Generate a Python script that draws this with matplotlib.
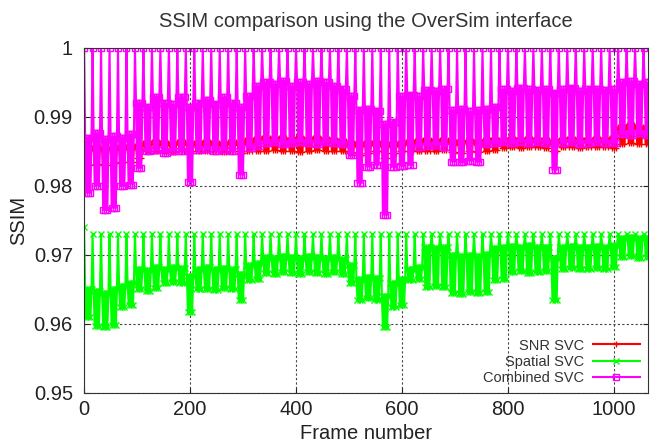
import numpy as np
import matplotlib
matplotlib.use("Agg")
import matplotlib.pyplot as plt

plt.rcParams["font.family"] = ["Liberation Sans", "DejaVu Sans"]

# one entry per 16-frame GOP (frame 0 .. 1056)
gop_start = [16 * g for g in range(67)]

combined_peak = [1.0] * 67
combined_low = [
    0.9790, 0.9800, 0.9765, 0.9768, 0.9800, 0.9802, 0.9826, 0.9850, 0.9852, 0.9848,
    0.9851, 0.9850, 0.9806, 0.9852, 0.9853, 0.9851, 0.9852, 0.9850, 0.9816, 0.9855,
    0.9858, 0.9862, 0.9863, 0.9861, 0.9862, 0.9864, 0.9862, 0.9861, 0.9863, 0.9862,
    0.9860, 0.9845, 0.9804, 0.9828, 0.9830, 0.9758, 0.9827, 0.9829, 0.9830, 0.9856,
    0.9858, 0.9859, 0.9857, 0.9835, 0.9834, 0.9836, 0.9835, 0.9860, 0.9862, 0.9863,
    0.9862, 0.9864, 0.9862, 0.9863, 0.9862, 0.9823, 0.9862, 0.9863, 0.9861, 0.9862,
    0.9863, 0.9862, 0.9862, 0.9875, 0.9874, 0.9876, 0.9873,
]
combined_mid = [
    0.9870, 0.9877, 0.9868, 0.9872, 0.9870, 0.9875, 0.9920, 0.9915, 0.9929, 0.9920,
    0.9918, 0.9929, 0.9915, 0.9920, 0.9925, 0.9918, 0.9929, 0.9920, 0.9915, 0.9930,
    0.9945, 0.9950, 0.9948, 0.9952, 0.9945, 0.9950, 0.9948, 0.9952, 0.9950, 0.9945,
    0.9940, 0.9930, 0.9910, 0.9912, 0.9908, 0.9890, 0.9892, 0.9930, 0.9932, 0.9930,
    0.9939, 0.9938, 0.9940, 0.9910, 0.9912, 0.9908, 0.9910, 0.9912, 0.9915, 0.9940,
    0.9938, 0.9942, 0.9940, 0.9939, 0.9941, 0.9935, 0.9940, 0.9942, 0.9938, 0.9940,
    0.9941, 0.9939, 0.9940, 0.9950, 0.9952, 0.9948, 0.9950,
]

snr_low = [
    0.9830, 0.9832, 0.9830, 0.9833, 0.9835, 0.9834, 0.9840, 0.9850, 0.9851, 0.9850,
    0.9849, 0.9851, 0.9848, 0.9850, 0.9851, 0.9850, 0.9849, 0.9851, 0.9848, 0.9850,
    0.9851, 0.9850, 0.9852, 0.9850, 0.9851, 0.9849, 0.9850, 0.9852, 0.9851, 0.9850,
    0.9850, 0.9848, 0.9845, 0.9848, 0.9850, 0.9840, 0.9848, 0.9850, 0.9851, 0.9850,
    0.9851, 0.9850, 0.9852, 0.9849, 0.9848, 0.9850, 0.9849, 0.9851, 0.9852, 0.9855,
    0.9856, 0.9855, 0.9857, 0.9856, 0.9855, 0.9850, 0.9856, 0.9857, 0.9855, 0.9856,
    0.9857, 0.9856, 0.9855, 0.9860, 0.9862, 0.9861, 0.9860,
]
snr_mid = [
    0.9855, 0.9856, 0.9854, 0.9855, 0.9857, 0.9856, 0.9858, 0.9862, 0.9863, 0.9862,
    0.9861, 0.9863, 0.9860, 0.9862, 0.9864, 0.9862, 0.9861, 0.9863, 0.9860, 0.9866,
    0.9868, 0.9870, 0.9868, 0.9869, 0.9867, 0.9870, 0.9868, 0.9869, 0.9868, 0.9866,
    0.9865, 0.9862, 0.9860, 0.9862, 0.9862, 0.9858, 0.9860, 0.9862, 0.9863, 0.9865,
    0.9866, 0.9865, 0.9866, 0.9864, 0.9863, 0.9865, 0.9864, 0.9866, 0.9866, 0.9867,
    0.9868, 0.9867, 0.9868, 0.9867, 0.9866, 0.9864, 0.9867, 0.9868, 0.9866, 0.9867,
    0.9868, 0.9867, 0.9870, 0.9885, 0.9888, 0.9886, 0.9884,
]

spatial_peak = [0.9740] + [0.9730] * 66
spatial_low = [
    0.9610, 0.9597, 0.9596, 0.9598, 0.9625, 0.9628, 0.9650, 0.9648, 0.9652, 0.9660,
    0.9661, 0.9659, 0.9617, 0.9650, 0.9651, 0.9649, 0.9652, 0.9650, 0.9635, 0.9664,
    0.9665, 0.9674, 0.9673, 0.9675, 0.9674, 0.9672, 0.9675, 0.9674, 0.9673, 0.9675,
    0.9672, 0.9660, 0.9635, 0.9637, 0.9634, 0.9596, 0.9625, 0.9627, 0.9664, 0.9665,
    0.9654, 0.9655, 0.9653, 0.9645, 0.9644, 0.9646, 0.9645, 0.9646, 0.9664, 0.9665,
    0.9675, 0.9676, 0.9674, 0.9675, 0.9676, 0.9635, 0.9680, 0.9681, 0.9679, 0.9680,
    0.9681, 0.9680, 0.9682, 0.9697, 0.9698, 0.9696, 0.9697,
]
spatial_mid = [
    0.9650, 0.9648, 0.9645, 0.9650, 0.9655, 0.9660, 0.9680, 0.9678, 0.9682, 0.9680,
    0.9683, 0.9681, 0.9670, 0.9680, 0.9682, 0.9680, 0.9681, 0.9680, 0.9672, 0.9685,
    0.9688, 0.9697, 0.9696, 0.9698, 0.9697, 0.9695, 0.9698, 0.9697, 0.9696, 0.9697,
    0.9694, 0.9685, 0.9665, 0.9668, 0.9666, 0.9640, 0.9660, 0.9665, 0.9680, 0.9682,
    0.9712, 0.9710, 0.9711, 0.9700, 0.9698, 0.9700, 0.9699, 0.9702, 0.9710, 0.9712,
    0.9713, 0.9712, 0.9714, 0.9712, 0.9711, 0.9695, 0.9712, 0.9713, 0.9711, 0.9712,
    0.9713, 0.9712, 0.9714, 0.9725, 0.9726, 0.9724, 0.9725,
]

xticks = [0, 200, 400, 600, 800, 1000]
yticks = [0.95, 0.96, 0.97, 0.98, 0.99, 1.0]
ytick_labels = ["0.95", "0.96", "0.97", "0.98", "0.99", "1"]


def gop_series(peak, mid, low):
    # each GOP: I-frame spike, then the band alternates between its upper and lower level
    xs, ys = [], []
    for f, p, m, lo in zip(gop_start, peak, mid, low):
        xs += [f, f + 2, f + 4, f + 6, f + 8, f + 10, f + 12, f + 14]
        ys += [p, m, lo, m, lo, m, lo, m]
    return np.array(xs), np.array(ys)


fig = plt.figure(figsize=(6.57, 4.43), dpi=100)
ax = fig.add_axes([0.128, 0.113, 0.858, 0.779])

x, y = gop_series(snr_mid, snr_mid, snr_low)
ax.plot(x, y, color="#ff0000", lw=1.5, marker="+", ms=5, mew=1, label="SNR SVC")
x, y = gop_series(spatial_peak, spatial_mid, spatial_low)
ax.plot(x, y, color="#00ff00", lw=1.5, marker="x", ms=4, mew=1, label="Spatial SVC")
x, y = gop_series(combined_peak, combined_mid, combined_low)
ax.plot(x, y, color="#ff00ff", lw=1.5, marker="s", ms=4, mfc="none", mew=1,
        label="Combined SVC")

ax.set_xlim(0, 1064)
ax.set_ylim(0.95, 1.0)
ax.set_xticks(xticks)
ax.set_yticks(yticks)
ax.set_yticklabels(ytick_labels)
ax.tick_params(axis="y", pad=8)
ax.tick_params(axis="x", pad=5)
ax.tick_params(direction="in", top=True, right=True, labelsize=14.5, colors="#222222")
ax.grid(True, color="#444444", linestyle=(0, (2, 2)), linewidth=0.8)
for s in ax.spines.values():
    s.set_color("#333333")

ax.set_title("SSIM comparison using the OverSim interface", fontsize=14.5,
             color="#333333", pad=15)
ax.set_ylabel("SSIM", fontsize=14.5, color="#222222", labelpad=4)
ax.set_xlabel("Frame number", fontsize=14.5, color="#222222", labelpad=4)

leg = ax.legend(loc="lower right", markerfirst=False, frameon=False, fontsize=10.5,
                handlelength=3.2, borderaxespad=0.15, labelspacing=0.15,
                handletextpad=0.6)
for t in leg.get_texts():
    t.set_color("#333333")

fig.savefig("out.png", dpi=100)
